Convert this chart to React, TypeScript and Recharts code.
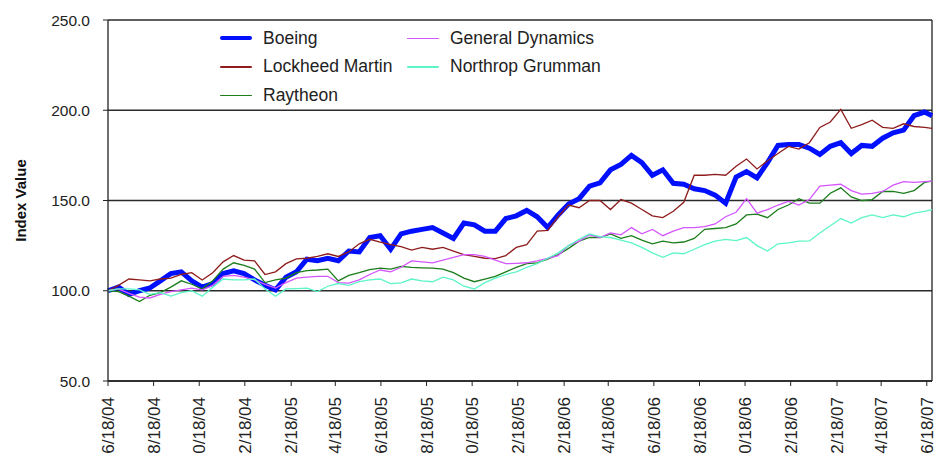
import React from 'react';
import { LineChart, Line, XAxis, YAxis, CartesianGrid, ReferenceLine } from 'recharts';

// tick dates along the x axis (every two months) and the labels as the chart prints them
const tickDates = [
  '6/18/04', '8/18/04', '10/18/04', '12/18/04', '2/18/05', '4/18/05', '6/18/05',
  '8/18/05', '10/18/05', '12/18/05', '2/18/06', '4/18/06', '6/18/06', '8/18/06',
  '10/18/06', '12/18/06', '2/18/07', '4/18/07', '6/18/07',
];
const tickLabels = [
  '6/18/04', '8/18/04', '0/18/04', '2/18/04', '2/18/05', '4/18/05', '6/18/05',
  '8/18/05', '0/18/05', '2/18/05', '2/18/06', '4/18/06', '6/18/06', '8/18/06',
  '0/18/06', '2/18/06', '2/18/07', '4/18/07', '6/18/07',
];

// sample dates, as days since 6/18/04 (two-week steps, last one 6/25/07)
const sampleDays = [
  0, 14, 28, 42, 56, 70, 84, 98, 112, 126, 140, 154, 168, 182, 196, 210, 224, 238, 252, 266,
  280, 294, 308, 322, 336, 350, 364, 378, 392, 406, 420, 434, 448, 462, 476, 490, 504, 518, 532, 546,
  560, 574, 588, 602, 616, 630, 644, 658, 672, 686, 700, 714, 728, 742, 756, 770, 784, 798, 812, 826,
  840, 854, 868, 882, 896, 910, 924, 938, 952, 966, 980, 994, 1008, 1022, 1036, 1050, 1064, 1078, 1092, 1102,
];

const boeing = [
  100, 102, 98, 100, 101.5, 105.5, 109.5, 110.5, 105.5, 102,
  104, 109.5, 111, 109.5, 106, 103, 100.5, 107.5, 110.5, 117.5,
  116.6, 118, 116.6, 122, 121.5, 129.5, 130.5, 123, 131.5, 133,
  134, 135, 132, 129, 137.5, 136.5, 133, 133, 140, 141.5,
  144.5, 141, 135, 142, 148, 151, 158, 159.8, 167, 170,
  175, 171, 164, 167, 159.5, 159, 156.5, 155.5, 153, 148.5,
  163, 166, 162.5, 171, 180.5, 181, 181, 179, 175.5, 180,
  182, 176, 180.5, 180, 184.5, 187.5, 189, 197, 199, 197,
];

const lockheed = [
  100, 103, 106.5, 106, 105.5, 106.5, 107, 109, 110, 106,
  110, 116, 119.5, 117, 116.6, 109, 110.5, 115, 117.7, 118,
  119, 120.5, 119, 121.5, 126, 128.5, 127, 125.5, 124.5, 122.5,
  124, 123, 124, 122, 120, 119, 118, 117.8, 119.5, 124,
  125.5, 133, 133.5, 141, 147.5, 146, 150, 150, 145, 150.5,
  148.5, 145, 141.5, 140.5, 144, 149, 164, 164, 164.5, 164,
  169, 173, 167.5, 172, 176, 180, 178.5, 182, 190.5, 193.5,
  200.5, 190, 192, 194.5, 190.5, 190, 192.5, 191, 190.5, 190,
];

const raytheon = [
  100, 99.5, 97, 94, 97.5, 99, 102, 105.5, 103.6, 101,
  105.5, 112, 115.5, 114, 112, 104.5, 106, 107, 110, 111.2,
  111.5, 112, 105.5, 108.5, 110, 111.7, 112.5, 112, 113.5, 113,
  112.7, 112.5, 112, 110, 107, 105, 106.5, 108, 110.5, 113,
  115, 115.5, 117.5, 120, 123.5, 127.5, 129.5, 129.5, 131.5, 129,
  130.5, 128, 126, 127.5, 126.5, 127, 129, 134, 134.5, 135,
  137, 142, 142.5, 140.5, 145, 147.5, 151, 148.5, 148.5, 154,
  157, 152, 150, 150.5, 155, 155, 154, 155.5, 160, 160.7,
];

const generalDynamics = [
  100, 101, 98.5, 96.5, 96, 98, 99.5, 100.5, 101.5, 100.5,
  103, 108, 108.5, 107.5, 106, 103.5, 101.5, 104.5, 107, 107.5,
  108, 108, 104.5, 104.2, 106, 109, 111.5, 110.5, 113, 116.5,
  116, 115.5, 117, 118.5, 120, 120, 119, 117, 115, 115.2,
  115.5, 116.5, 118, 119.5, 125, 127.5, 131, 129.5, 132, 131,
  135, 131.5, 134, 130.5, 133, 135, 135, 135.5, 137, 141,
  143.5, 151, 143, 145, 147.5, 149.5, 147.5, 150.5, 158, 158.5,
  159, 155.5, 153.5, 154, 155, 158.5, 160.5, 160, 160.5, 160.7,
];

const northrop = [
  100, 101, 101, 100.5, 98, 99, 97, 99, 100, 97,
  102, 106.5, 106, 106, 106.5, 101, 97, 101, 101.2, 101.4,
  99.5, 102.5, 104, 103, 105, 106, 106.5, 104, 104.4, 106.5,
  105.5, 105, 107.5, 106, 102.5, 101, 104.5, 107, 109, 110.5,
  113, 115, 118, 121, 125, 128.5, 131.5, 130, 129.5, 128,
  126.5, 124, 121, 118.5, 121, 120.5, 123, 125.5, 127.5, 128.5,
  127.8, 129.5, 125, 122, 126, 126.5, 127.5, 127.6, 132, 136,
  140, 137.5, 140.5, 142, 140.5, 142, 141, 143, 144, 145,
];

const yTicks = [50, 100, 150, 200, 250];

const series = [
  { key: 'boeing', name: 'Boeing', color: '#0010ff', width: 5, values: boeing },
  { key: 'lockheed', name: 'Lockheed Martin', color: '#8e1c1c', width: 1.3, values: lockheed },
  { key: 'raytheon', name: 'Raytheon', color: '#1b7d1b', width: 1.3, values: raytheon },
  { key: 'gd', name: 'General Dynamics', color: '#d456ff', width: 1.3, values: generalDynamics },
  { key: 'northrop', name: 'Northrop Grumman', color: '#5cf5c8', width: 1.3, values: northrop },
];

const toDays = (date: string) => {
  const [m, d, y] = date.split('/').map(Number);
  return Math.round((Date.UTC(2000 + y, m - 1, d) - Date.UTC(2004, 5, 18)) / 86400000);
};
const tickDays = tickDates.map(toDays);
const labelByDay: Record<number, string> = {};
tickDays.forEach((d, i) => (labelByDay[d] = tickLabels[i]));

const data = sampleDays.map((day, i) => {
  const row: Record<string, number> = { day };
  series.forEach((s) => (row[s.key] = s.values[i]));
  return row;
});

const FONT = "'Liberation Sans', Arial, sans-serif";

const XTick = ({ x, y, payload }: any) => (
  <text
    x={x}
    y={y}
    transform={`rotate(-90 ${x} ${y})`}
    textAnchor="end"
    dy="0.36em"
    fontSize={17}
    fontFamily={FONT}
    fill="#222"
  >
    {labelByDay[payload.value]}
  </text>
);

const YLabel = ({ viewBox }: any) => {
  const cx = viewBox.x + 20;
  const cy = viewBox.y + viewBox.height / 2;
  return (
    <text
      x={cx}
      y={cy}
      transform={`rotate(-90 ${cx} ${cy})`}
      textAnchor="middle"
      dominantBaseline="central"
      fontSize={15}
      fontWeight="bold"
      fontFamily={FONT}
      fill="#111"
    >
      Index Value
    </text>
  );
};

function ChartLegend() {
  return (
    <div
      style={{
        position: 'absolute',
        left: 220,
        top: 24,
        display: 'grid',
        gridTemplateColumns: '187px auto',
        gridTemplateRows: 'repeat(3, 28.5px)',
        gridAutoFlow: 'column',
        fontFamily: FONT,
        fontSize: 17.5,
        color: '#222',
      }}
    >
      {series.map((s) => (
        <div key={s.key} style={{ display: 'flex', alignItems: 'center' }}>
          <span
            style={{
              display: 'inline-block',
              width: 32,
              height: s.width > 2 ? 4 : 1.5,
              background: s.color,
              marginRight: 11,
              borderRadius: 2,
            }}
          />
          {s.name}
        </div>
      ))}
    </div>
  );
}

export default function App() {
  return (
    <div style={{ position: 'absolute', left: 0, top: 0, width: 948, height: 457, background: '#fff' }}>
      <LineChart width={948} height={457} data={data} margin={{ top: 20, right: 16, bottom: 0, left: 0 }}>
        <CartesianGrid vertical={false} stroke="#2a2a2a" strokeWidth={1.3} />
        <XAxis
          dataKey="day"
          type="number"
          domain={[0, 1102]}
          ticks={tickDays}
          interval={0}
          tick={<XTick />}
          tickSize={5}
          tickMargin={11}
          height={76}
          axisLine={{ stroke: '#222', strokeWidth: 1.3 }}
          tickLine={{ stroke: '#222' }}
        />
        <YAxis
          domain={[50, 250]}
          ticks={yTicks}
          tickFormatter={(v: number) => v.toFixed(1)}
          width={108}
          tickSize={5}
          tickMargin={13}
          tick={{ fontSize: 15.5, fontFamily: FONT, fill: '#222' }}
          axisLine={{ stroke: '#222', strokeWidth: 1.3 }}
          tickLine={{ stroke: '#222' }}
          label={<YLabel />}
        />
        <ReferenceLine x={1102} stroke="#222" strokeWidth={1.3} />
        {series.map((s) => (
          <Line
            key={s.key}
            dataKey={s.key}
            name={s.name}
            type="linear"
            stroke={s.color}
            strokeWidth={s.width}
            dot={false}
            activeDot={false}
            isAnimationActive={false}
          />
        ))}
      </LineChart>
      <ChartLegend />
    </div>
  );
}
